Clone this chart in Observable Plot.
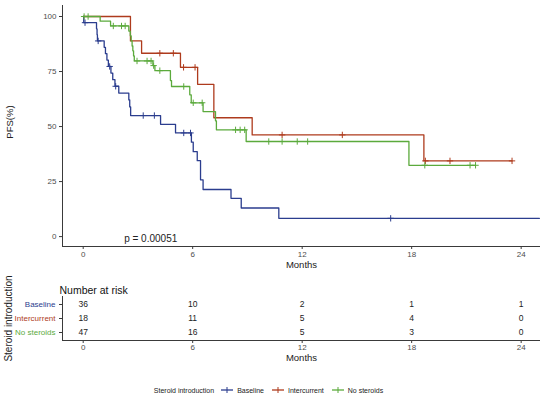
<!DOCTYPE html>
<html><head><meta charset="utf-8">
<script src="https://cdn.jsdelivr.net/npm/d3@7"></script>
<script src="https://cdn.jsdelivr.net/npm/@observablehq/plot@0.6"></script>
<style>
body{margin:0;background:#fff;font-family:"Liberation Sans",Arial,sans-serif;}
#wrap{position:relative;width:550px;height:399px;background:#fff;overflow:hidden}
#main{position:absolute;left:0;top:0}
#risk{position:absolute;left:0;top:276px}
#risk svg{overflow:visible}
#legend{position:absolute;left:-3px;top:384px;width:550px;height:12px;display:flex;justify-content:center;align-items:center;font-size:7px;color:#222;}
#legend span{margin-right:4px;white-space:nowrap}
#legend svg{margin-right:3px}
</style></head><body>
<div id="wrap"><div id="main"></div><div id="risk"></div><div id="legend"></div></div>
<script>
// ---- data ----
const groups = ["Baseline", "Intercurrent", "No steroids"];
const groupColors = ["#2B3D8E", "#AE3B1D", "#5BAA3C"];
const monthTicks = [0, 6, 12, 18, 24];
const pfsTicks = [0, 25, 50, 75, 100];

const baselineTime = [0, 0.03, 0.73, 0.76, 0.78, 1.15, 1.22, 1.3, 1.38, 1.52, 1.62, 1.74, 1.95, 2.5, 2.55, 2.6, 4.24, 5.06, 5.93, 6.03, 6.25, 6.43, 6.57, 8.1, 8.66, 10.72, 25.0];
const baselineSurv = [100, 97.2, 94.4, 91.7, 88.9, 86.0, 83.1, 80.2, 77.3, 74.3, 71.3, 68.3, 65.2, 62.1, 58.9, 55.0, 51.0, 47.1, 42.9, 38.6, 34.5, 25.8, 21.4, 17.4, 13.0, 8.3, 8.3];
const baselineCensorTime = [0.1, 0.82, 1.45, 1.78, 3.29, 3.9, 5.51, 5.88, 16.85];
const baselineCensorSurv = [97.2, 88.9, 77.3, 68.3, 55.0, 55.0, 47.1, 47.1, 8.3];

const intercurrentTime = [0, 2.59, 3.2, 5.33, 6.27, 7.16, 9.26, 18.67, 23.5];
const intercurrentSurv = [100, 88.9, 83.3, 76.9, 69.2, 54.0, 46.2, 34.4, 34.4];
const intercurrentCensorTime = [4.2, 4.94, 5.5, 6.13, 10.9, 14.2, 18.75, 20.1, 23.5];
const intercurrentCensorSurv = [83.3, 83.3, 76.9, 76.9, 46.2, 46.2, 34.4, 34.4, 34.4];

const noSteroidsTime = [0, 0.93, 1.5, 2.5, 2.58, 2.63, 2.68, 2.72, 2.76, 2.8, 3.82, 3.93, 4.78, 4.84, 5.84, 5.92, 6.57, 7.25, 7.3, 8.93, 17.85, 21.5];
const noSteroidsSurv = [100, 97.9, 95.7, 93.4, 91.2, 88.9, 86.6, 84.4, 82.1, 79.8, 77.7, 75.4, 70.9, 68.2, 64.4, 60.8, 56.8, 52.6, 48.5, 43.2, 32.4, 32.4];
const noSteroidsCensorTime = [0.05, 0.27, 1.65, 2.1, 2.3, 2.95, 3.5, 3.72, 3.86, 4.2, 5.51, 6.03, 6.52, 8.35, 8.6, 8.85, 10.17, 10.9, 11.73, 12.3, 18.72, 21.2, 21.5];
const noSteroidsCensorSurv = [100, 100, 95.7, 95.7, 95.7, 79.8, 79.8, 79.8, 77.7, 75.4, 68.2, 60.8, 60.8, 48.5, 48.5, 48.5, 43.2, 43.2, 43.2, 43.2, 32.4, 32.4, 32.4];

const riskTimes = [0, 6, 12, 18, 24];
const baselineRisk = [36, 10, 2, 1, 1];
const intercurrentRisk = [18, 11, 5, 4, 0];
const noSteroidsRisk = [47, 16, 5, 3, 0];

const pvalLabel = "p = 0.00051";
const pvalTime = 3.7;
const pvalSurv = -0.9;

// ---- build tables ----
const rows = (g, T, S) => T.map((t, i) => ({group: g, time: t, surv: S[i]}));
const curves = [
  ...rows("Baseline", baselineTime, baselineSurv),
  ...rows("Intercurrent", intercurrentTime, intercurrentSurv),
  ...rows("No steroids", noSteroidsTime, noSteroidsSurv)
];
const censors = [
  ...rows("Baseline", baselineCensorTime, baselineCensorSurv),
  ...rows("Intercurrent", intercurrentCensorTime, intercurrentCensorSurv),
  ...rows("No steroids", noSteroidsCensorTime, noSteroidsCensorSurv)
];
const riskCounts = [baselineRisk, intercurrentRisk, noSteroidsRisk];
const riskTable = groups.flatMap((g, i) => riskTimes.map((t, j) => ({group: g, row: i, time: t, n: riskCounts[i][j]})));
const groupRows = groups.map((g, i) => ({group: g, row: i}));

const xDomain = [-1.134, 25.06];
const yDomain = [-4.5, 105];
const rowDomain = [2.57, -0.57];
const font = '"Liberation Sans", Arial, sans-serif';
const axisCol = "#3a3a3a";
const tickTextCol = "#4d4d4d";

const main = Plot.plot({
  width: 550, height: 275,
  marginLeft: 62, marginRight: 10, marginTop: 5, marginBottom: 29,
  x: {domain: xDomain},
  y: {domain: yDomain},
  color: {domain: groups, range: groupColors},
  style: {fontFamily: font, fontSize: "8px", background: "white", color: tickTextCol},
  marks: [
    Plot.axisX({ticks: monthTicks, tickSize: 3, tickPadding: 2, label: null, stroke: axisCol, fill: tickTextCol, fontSize: 8}),
    Plot.axisY({ticks: pfsTicks, tickSize: 3, tickPadding: 3, label: null, stroke: axisCol, fill: tickTextCol, fontSize: 8}),
    Plot.ruleX([xDomain[0]], {stroke: axisCol, strokeWidth: 1}),
    Plot.ruleY([yDomain[0]], {stroke: axisCol, strokeWidth: 1}),
    Plot.line(curves, {x: "time", y: "surv", z: "group", stroke: "group", curve: "step-after", strokeWidth: 1.3}),
    Plot.dot(censors, {x: "time", y: "surv", stroke: "group", symbol: "plus", r: 2.2, strokeWidth: 1}),
    Plot.text([pvalLabel], {x: () => pvalTime, y: () => pvalSurv, fill: "#222", fontSize: 10}),
    Plot.text(["Months"], {frameAnchor: "bottom", dy: 21, fill: "#222", fontSize: 9.5}),
    Plot.text(["PFS(%)"], {frameAnchor: "left", dx: -53, dy: -4, rotate: -90, textAnchor: "middle", fill: "#222", fontSize: 9.5})
  ]
});
document.getElementById("main").append(main);

const risk = Plot.plot({
  width: 550, height: 92,
  marginLeft: 62, marginRight: 10, marginTop: 20, marginBottom: 28,
  x: {domain: xDomain},
  y: {domain: rowDomain},
  color: {domain: groups, range: groupColors},
  style: {fontFamily: font, fontSize: "8px", background: "white", color: tickTextCol, overflow: "visible"},
  marks: [
    Plot.axisX({ticks: monthTicks, tickSize: 3, tickPadding: 1, label: null, stroke: axisCol, fill: tickTextCol, fontSize: 8}),
    Plot.axisY({ticks: groupRows.map(d => d.row), tickSize: 3, tickFormat: () => "", label: null, stroke: axisCol}),
    Plot.ruleX([xDomain[0]], {stroke: axisCol, strokeWidth: 1}),
    Plot.ruleY([rowDomain[0]], {stroke: axisCol, strokeWidth: 1}),
    Plot.text(groupRows, {y: "row", text: "group", fill: "group", frameAnchor: "left", dx: -7, textAnchor: "end", fontSize: 8}),
    Plot.text(riskTable, {x: "time", y: "row", text: d => String(d.n), fill: "#222", fontSize: 8.5}),
    Plot.text(["Number at risk"], {frameAnchor: "top-left", dx: -3, dy: -10, textAnchor: "start", fill: "#111", fontSize: 10.5}),
    Plot.text(["Months"], {frameAnchor: "bottom", dy: 20, fill: "#222", fontSize: 9.5}),
    Plot.text(["Steroid introduction"], {frameAnchor: "left", dx: -54, rotate: -90, textAnchor: "middle", fill: "#222", fontSize: 10})
  ]
});
document.getElementById("risk").append(risk);

// legend
const leg = document.getElementById("legend");
const title = document.createElement("span");
title.textContent = "Steroid introduction";
title.style.marginRight = "6px";
leg.append(title);
groups.forEach((g, i) => {
  const ns = "http://www.w3.org/2000/svg";
  const s = document.createElementNS(ns, "svg");
  s.setAttribute("width", 14); s.setAttribute("height", 8);
  const c = groupColors[i];
  s.innerHTML = `<line x1="1" x2="13" y1="4" y2="4" stroke="${c}" stroke-width="1.3"/><line x1="7" x2="7" y1="1" y2="7" stroke="${c}" stroke-width="1"/>`;
  leg.append(s);
  const t = document.createElement("span");
  t.textContent = g;
  t.style.marginRight = "7px";
  leg.append(t);
});
</script>
</body></html>
